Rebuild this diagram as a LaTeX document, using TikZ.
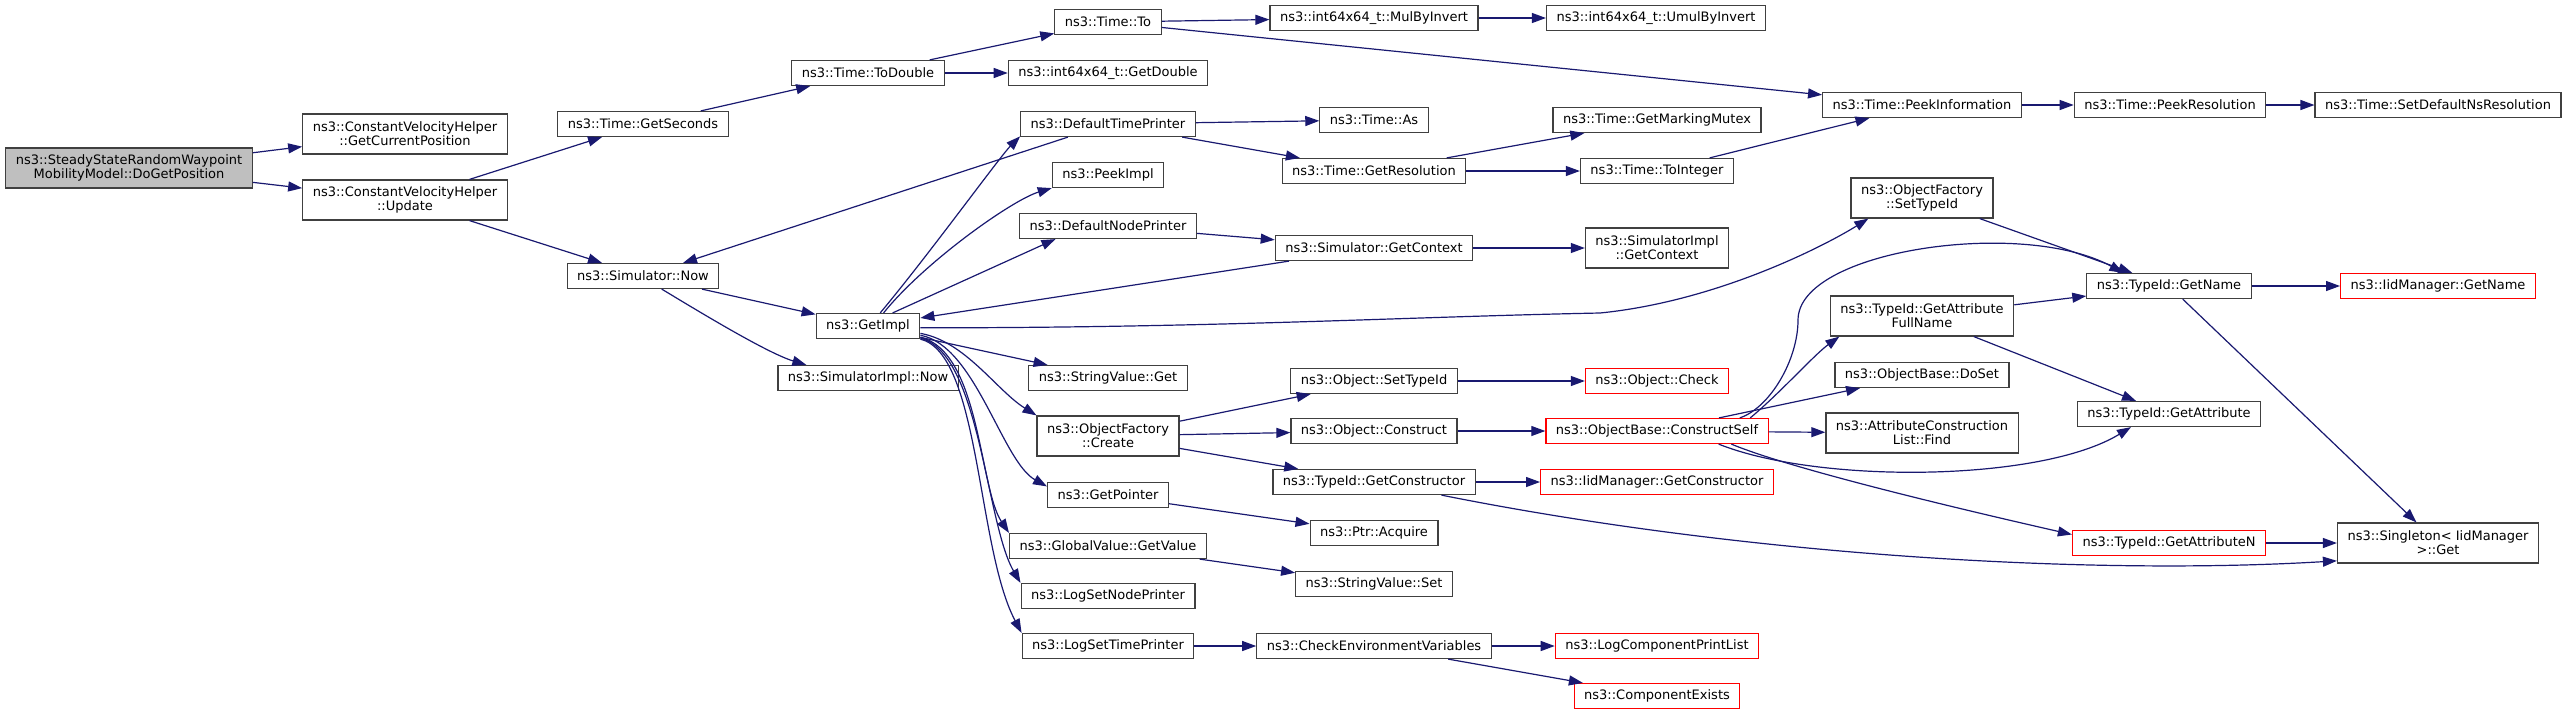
\documentclass[tikz,border=0pt]{standalone}
\usepackage{fontspec}
\setmainfont{DejaVu Sans}
\usetikzlibrary{arrows.meta}

\definecolor{edgeblue}{HTML}{191970}
\definecolor{rootgray}{HTML}{BFBFBF}
\definecolor{boxline}{HTML}{404040}

\begin{document}
\begin{tikzpicture}[x=0.75pt,y=-0.75pt,
    font=\fontsize{9.75}{10.5}\selectfont,
    fn/.style={draw=boxline,line width=0.9pt,fill=white,inner xsep=7.5pt,inner ysep=1pt,minimum height=18.75pt,align=center},
    fntwo/.style={fn,minimum height=30pt},
    root/.style={fntwo,fill=rootgray},
    cut/.style={fn,draw=red},
    call/.style={draw=edgeblue,line width=0.9pt,-{Triangle[length=10.5pt,width=7.5pt]}}]
    \useasboundingbox (0,0) rectangle (2568,715);

    % Root of the graph
    \node[root] (dgp) at (129,168) {ns3::SteadyStateRandomWaypoint\\MobilityModel::DoGetPosition};

    % Second column
    \node[fntwo] (gcp) at (405,134) {ns3::ConstantVelocityHelper\\::GetCurrentPosition};
    \node[fntwo] (upd) at (405,200) {ns3::ConstantVelocityHelper\\::Update};

    % Third column
    \node[fn] (getsec) at (643,124) {ns3::Time::GetSeconds};
    \node[fn] (now) at (643,276) {ns3::Simulator::Now};

    % Fourth column
    \node[fn] (todbl) at (868,73) {ns3::Time::ToDouble};
    \node[fn] (getimpl) at (868,326) {ns3::GetImpl};
    \node[fn] (simnow) at (868,378) {ns3::SimulatorImpl::Now};

    % Fifth column
    \node[fn] (timeto) at (1108,22) {ns3::Time::To};
    \node[fn] (getdbl) at (1108,73) {ns3::int64x64\_t::GetDouble};
    \node[fn] (dtp) at (1108,124) {ns3::DefaultTimePrinter};
    \node[fn] (peekimpl) at (1108,175) {ns3::PeekImpl};
    \node[fn] (dnp) at (1108,226) {ns3::DefaultNodePrinter};
    \node[fn] (svget) at (1108,378) {ns3::StringValue::Get};
    \node[fntwo] (create) at (1108,436) {ns3::ObjectFactory\\::Create};
    \node[fn] (getptr) at (1108,495) {ns3::GetPointer};
    \node[fn] (getval) at (1108,546) {ns3::GlobalValue::GetValue};
    \node[fn] (lsnp) at (1108,596) {ns3::LogSetNodePrinter};
    \node[fn] (lstp) at (1108,646) {ns3::LogSetTimePrinter};

    % Sixth column
    \node[fn] (mul) at (1374,18) {ns3::int64x64\_t::MulByInvert};
    \node[fn] (as) at (1374,120) {ns3::Time::As};
    \node[fn] (getres) at (1374,171) {ns3::Time::GetResolution};
    \node[fn] (getctx) at (1374,248) {ns3::Simulator::GetContext};
    \node[fn] (osti) at (1374,381) {ns3::Object::SetTypeId};
    \node[fn] (construct) at (1374,431) {ns3::Object::Construct};
    \node[fn] (getcons) at (1374,482) {ns3::TypeId::GetConstructor};
    \node[fn] (acquire) at (1374,533) {ns3::Ptr::Acquire};
    \node[fn] (svset) at (1374,584) {ns3::StringValue::Set};
    \node[fn] (checkenv) at (1374,646) {ns3::CheckEnvironmentVariables};

    % Seventh column
    \node[fn] (umul) at (1656,18) {ns3::int64x64\_t::UmulByInvert};
    \node[fn] (mutex) at (1657,120) {ns3::Time::GetMarkingMutex};
    \node[fn] (toint) at (1657,171) {ns3::Time::ToInteger};
    \node[fntwo] (implctx) at (1657,248) {ns3::SimulatorImpl\\::GetContext};
    \node[cut] (check) at (1657,381) {ns3::Object::Check};
    \node[cut] (cself) at (1657,431) {ns3::ObjectBase::ConstructSelf};
    \node[cut] (iidcons) at (1657,482) {ns3::IidManager::GetConstructor};
    \node[cut] (printlist) at (1657,646) {ns3::LogComponentPrintList};
    \node[cut] (exists) at (1657,696) {ns3::ComponentExists};

    % Eighth column
    \node[fn] (peekinfo) at (1922,105) {ns3::Time::PeekInformation};
    \node[fntwo] (sfti) at (1922,198) {ns3::ObjectFactory\\::SetTypeId};
    \node[fntwo] (gafn) at (1922,316) {ns3::TypeId::GetAttribute\\FullName};
    \node[fn] (doset) at (1922,375) {ns3::ObjectBase::DoSet};
    \node[fntwo] (find) at (1922,433) {ns3::AttributeConstruction\\List::Find};

    % Ninth column
    \node[fn] (peekres) at (2170,105) {ns3::Time::PeekResolution};
    \node[fn] (getname) at (2169,286) {ns3::TypeId::GetName};
    \node[fn] (getattr) at (2169,414) {ns3::TypeId::GetAttribute};
    \node[cut] (getattrn) at (2169,543) {ns3::TypeId::GetAttributeN};

    % Last column
    \node[fn] (setdef) at (2438,105) {ns3::Time::SetDefaultNsResolution};
    \node[cut] (iidname) at (2438,286) {ns3::IidManager::GetName};
    \node[fntwo] (singleton) at (2438,543) {ns3::Singleton< IidManager\\>::Get};

    % Straight calls
    \draw[call] (dgp) -- (gcp);
    \draw[call] (dgp) -- (upd);
    \draw[call] (upd) -- (getsec);
    \draw[call] (upd) -- (now);
    \draw[call] (getsec) -- (todbl);
    \draw[call] (todbl) -- (timeto);
    \draw[call] (todbl) -- (getdbl);
    \draw[call] (timeto) -- (mul);
    \draw[call] (mul) -- (umul);
    \draw[call] (timeto) -- (peekinfo);
    \draw[call] (peekinfo) -- (peekres);
    \draw[call] (peekres) -- (setdef);
    \draw[call] (now) -- (getimpl);
    \draw[call] (dtp) -- (now);
    \draw[call] (dtp) -- (as);
    \draw[call] (dtp) -- (getres);
    \draw[call] (getres) -- (mutex);
    \draw[call] (getres) -- (toint);
    \draw[call] (toint) -- (peekinfo);
    \draw[call] (dnp) -- (getctx);
    \draw[call] (getctx) -- (implctx);
    \draw[call] (getctx) -- (getimpl);
    \draw[call] (getimpl) -- (svget);
    \draw[call] (getimpl.28) -- (dnp.194);
    \draw[call] (create) -- (osti);
    \draw[call] (create) -- (construct);
    \draw[call] (create) -- (getcons);
    \draw[call] (getptr) -- (acquire);
    \draw[call] (getval) -- (svset);
    \draw[call] (lstp) -- (checkenv);
    \draw[call] (checkenv) -- (printlist);
    \draw[call] (checkenv) -- (exists);
    \draw[call] (osti) -- (check);
    \draw[call] (construct) -- (cself);
    \draw[call] (getcons) -- (iidcons);
    \draw[call] (cself) -- (doset);
    \draw[call] (cself) -- (find);
    \draw[call] (gafn) -- (getname);
    \draw[call] (gafn) -- (getattr);
    \draw[call] (sfti) -- (getname);
    \draw[call] (getname) -- (iidname);
    \draw[call] (getname) -- (singleton);
    \draw[call] (getattrn) -- (singleton);

    % Curved calls
    \draw[call] (now.-35) .. controls +(30,18) and +(-40,-12) .. (simnow.168);
    \draw[call] (getimpl.47) .. controls +(50,-60) and +(-20,20) .. (dtp.188);
    \draw[call] (getimpl.40) .. controls +(40,-50) and +(-40,12) .. (peekimpl.south west);
    \draw[call] (getimpl.-2) .. controls +(300,0) and +(-200,4) .. (1600,313) .. controls +(120,-12) and +(-40,25) .. (sfti.201);
    \draw[call] (getimpl.-8) .. controls +(45,8) and +(-40,-25) .. (create.north west);
    \draw[call] (getimpl.-10) .. controls +(55,10) and +(-45,-25) .. (getptr.172);
    \draw[call] (getimpl.-12) .. controls +(60,15) and +(-30,-45) .. (getval.north west);
    \draw[call] (getimpl.-13) .. controls +(60,15) and +(-35,-60) .. (lsnp.north west);
    \draw[call] (getimpl.-14) .. controls +(60,15) and +(-45,-85) .. (lstp.north west);
    \draw[call] (getcons.-11) .. controls +(300,60) and +(-250,15) .. (singleton.190);
    \draw[call] (cself.8) .. controls +(30,-25) and +(-25,18) .. (gafn.194);
    \draw[call] (cself.9) .. controls +(30,-10) and +(0,40) .. (1798,320) .. controls +(0,-70) and +(-100,-55) .. (getname.164);
    \draw[call] (cself.-12) .. controls +(100,40) and +(-90,55) .. (getattr.199);
    \draw[call] (cself.-10) .. controls +(60,25) and +(-110,-25) .. (getattrn.175);
\end{tikzpicture}
\end{document}
